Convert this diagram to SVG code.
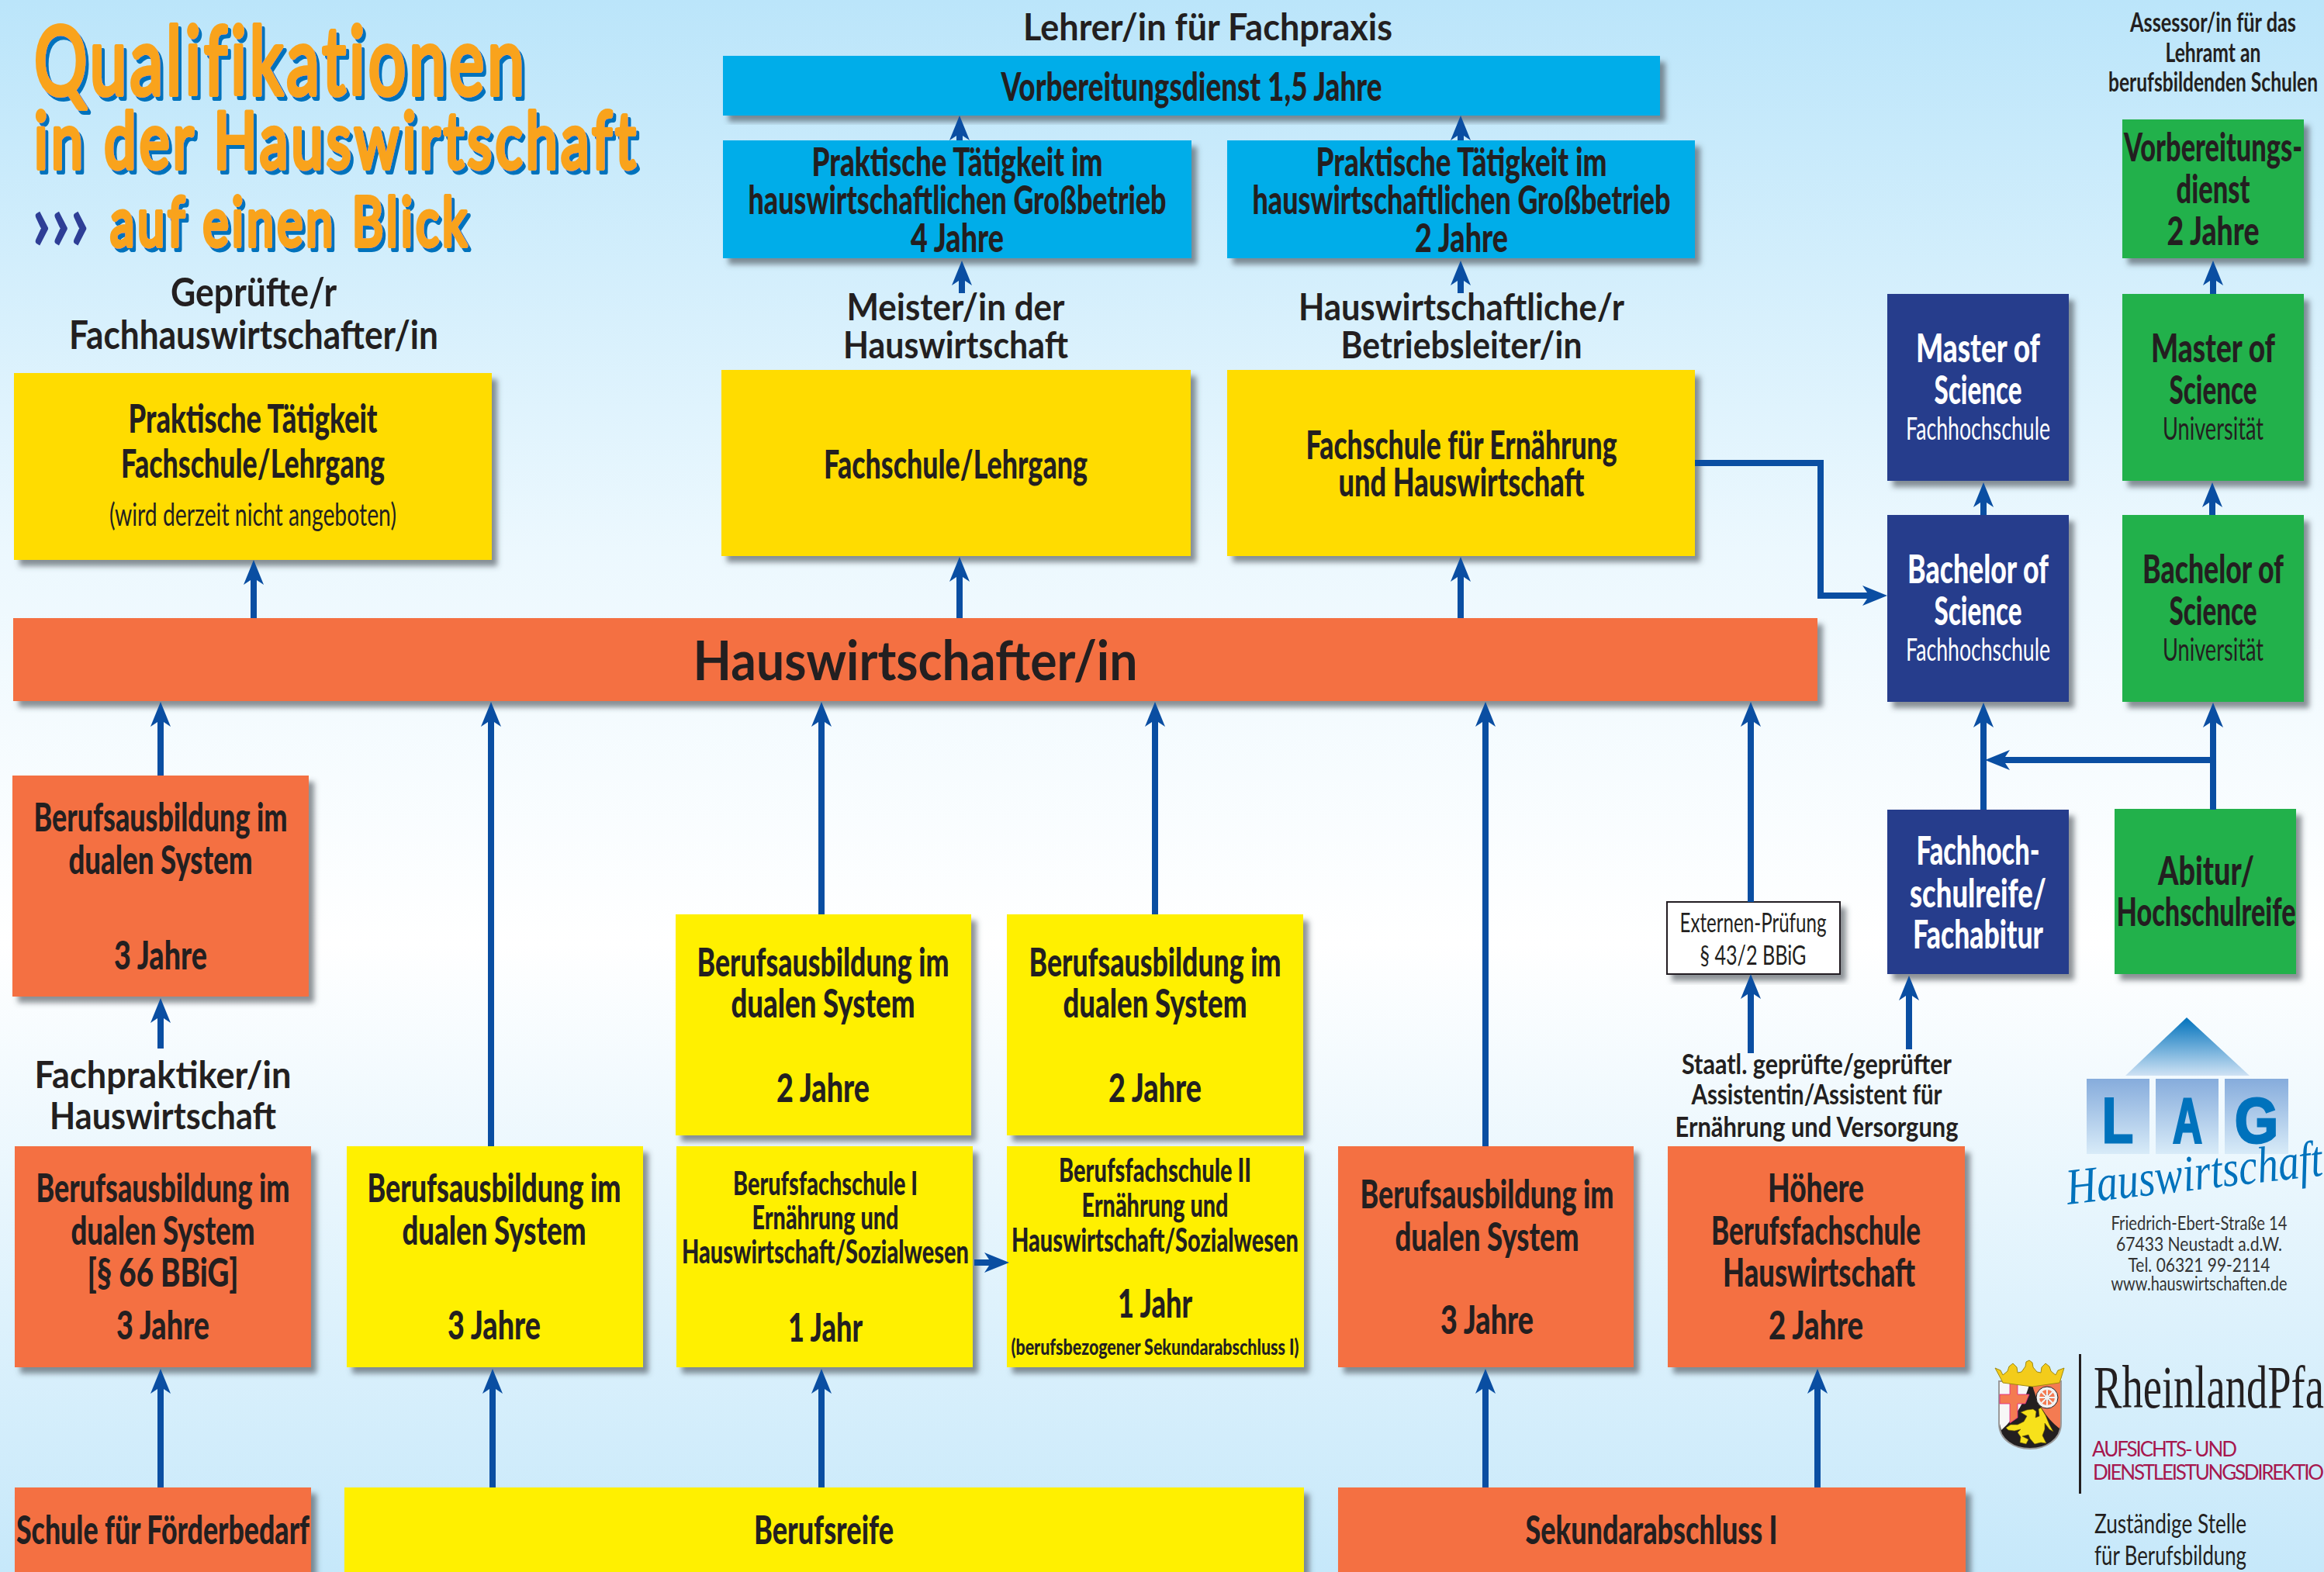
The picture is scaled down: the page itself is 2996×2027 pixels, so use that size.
<svg xmlns="http://www.w3.org/2000/svg" width="2996" height="2027" viewBox="0 0 2996 2027">
<defs>
<linearGradient id="bg" x1="0" y1="0" x2="0" y2="1"><stop offset="0" stop-color="#bbe5fa"/><stop offset="0.35" stop-color="#ecf8fe"/><stop offset="0.6" stop-color="#ffffff"/><stop offset="1" stop-color="#c6e8fa"/></linearGradient>
<linearGradient id="roof" x1="0" y1="0" x2="0" y2="1"><stop offset="0" stop-color="#0072bc"/><stop offset="1" stop-color="#cfe2f4"/></linearGradient>
<linearGradient id="sq" x1="0" y1="0" x2="0" y2="1"><stop offset="0" stop-color="#86acdc"/><stop offset="1" stop-color="#d8ebf8"/></linearGradient>
<filter id="sh" x="-10%" y="-10%" width="125%" height="125%"><feDropShadow dx="7" dy="8" stdDeviation="3.5" flood-color="#40464f" flood-opacity="0.6"/></filter>
<filter id="tsh" x="-5%" y="-5%" width="110%" height="115%"><feDropShadow dx="4" dy="5" stdDeviation="0" flood-color="#0072bc"/></filter>
<marker id="ah" markerUnits="userSpaceOnUse" viewBox="0 0 32 26" markerWidth="32" markerHeight="26" refX="12" refY="13" orient="auto"><path d="M32,13 L0,26 L6,17 L6,9 L0,0 Z" fill="#0a4ea2"/></marker>
</defs>
<style>
text{font-family:"Lato","Liberation Sans",sans-serif;fill:#231f20;text-anchor:middle}
.b{font-size:52px;font-weight:900;transform:translateY(2px)}
.m{font-size:48px;font-weight:700}
.r{font-size:40px;font-weight:400}
.s{font-size:34px;font-weight:700}
.w{fill:#fff}
.box{filter:url(#sh)}
.blue{fill:#00ade9}.gold{fill:#ffdc00}.yel{fill:#fff000}.org{fill:#f46f43}.navy{fill:#253d8c}.grn{fill:#24b14c}
.title{fill:#f9a31c;stroke:#f9a31c;stroke-width:6;stroke-linejoin:round;stroke-linecap:round;font-weight:400;letter-spacing:6px;text-anchor:start;filter:url(#tsh)}
#connectors path{fill:none;stroke:#0a4ea2;stroke-width:8;marker-end:url(#ah)}
.addr{font-size:25px;font-weight:400;fill:#333}
.dir{font-size:26px;fill:#a6174e;text-anchor:start}
.z{font-size:34px;text-anchor:start;font-weight:400}
</style>
<rect width="2996" height="2027" fill="url(#bg)"/>
<g id="title">
<text class="title" x="44" y="122" font-size="122" textLength="636" lengthAdjust="spacingAndGlyphs">Qualifikationen</text>
<text class="title" x="44" y="217" font-size="100" textLength="780" lengthAdjust="spacingAndGlyphs">in der Hauswirtschaft</text>
<text x="78" y="323" font-size="105" font-weight="900" style="fill:#2e3e96" textLength="74" lengthAdjust="spacingAndGlyphs">›››</text>
<text class="title" x="142" y="317" font-size="88" textLength="464" lengthAdjust="spacingAndGlyphs">auf einen Blick</text>
</g>
<g id="label-lehrer"><text class="m" x="1557" y="52" textLength="476" lengthAdjust="spacingAndGlyphs">Lehrer/in für Fachpraxis</text></g>
<g id="node-vorbereitung"><rect class="box blue" x="932" y="72" width="1208" height="77"/><text class="b" x="1536" y="128" textLength="491" lengthAdjust="spacingAndGlyphs">Vorbereitungsdienst 1,5 Jahre</text></g>
<g id="node-prak4"><rect class="box blue" x="932" y="181" width="604" height="152"/>
<text class="b" x="1234" y="225" textLength="375" lengthAdjust="spacingAndGlyphs">Praktische Tätigkeit im</text>
<text class="b" x="1234" y="274" textLength="539" lengthAdjust="spacingAndGlyphs">hauswirtschaftlichen Großbetrieb</text>
<text class="b" x="1234" y="323" textLength="120" lengthAdjust="spacingAndGlyphs">4 Jahre</text></g>
<g id="node-prak2"><rect class="box blue" x="1582" y="181" width="603" height="152"/>
<text class="b" x="1884" y="225" textLength="375" lengthAdjust="spacingAndGlyphs">Praktische Tätigkeit im</text>
<text class="b" x="1884" y="274" textLength="539" lengthAdjust="spacingAndGlyphs">hauswirtschaftlichen Großbetrieb</text>
<text class="b" x="1884" y="323" textLength="120" lengthAdjust="spacingAndGlyphs">2 Jahre</text></g>
<g id="label-geprueft"><text class="m" x="327" y="395" style="font-size:52px" textLength="214" lengthAdjust="spacingAndGlyphs">Geprüfte/r</text><text class="m" x="327" y="450" style="font-size:52px" textLength="476" lengthAdjust="spacingAndGlyphs">Fachhauswirtschafter/in</text></g>
<g id="label-meister"><text class="m" x="1232" y="413" textLength="281" lengthAdjust="spacingAndGlyphs">Meister/in der</text><text class="m" x="1232" y="462" textLength="290" lengthAdjust="spacingAndGlyphs">Hauswirtschaft</text></g>
<g id="label-betriebsleiter"><text class="m" x="1884" y="413" textLength="420" lengthAdjust="spacingAndGlyphs">Hauswirtschaftliche/r</text><text class="m" x="1884" y="462" textLength="311" lengthAdjust="spacingAndGlyphs">Betriebsleiter/in</text></g>
<g id="node-fach-prak"><rect class="box gold" x="18" y="481" width="616" height="241"/>
<text class="b" x="326" y="556" textLength="321" lengthAdjust="spacingAndGlyphs">Praktische Tätigkeit</text>
<text class="b" x="326" y="614" textLength="340" lengthAdjust="spacingAndGlyphs">Fachschule/Lehrgang</text>
<text class="r" x="326" y="678" textLength="370" lengthAdjust="spacingAndGlyphs">(wird derzeit nicht angeboten)</text></g>
<g id="node-fach-meister"><rect class="box gold" x="930" y="477" width="605" height="240"/><text class="b" x="1232" y="615" textLength="340" lengthAdjust="spacingAndGlyphs">Fachschule/Lehrgang</text></g>
<g id="node-fach-ern"><rect class="box gold" x="1582" y="477" width="603" height="240"/>
<text class="b" x="1884" y="590" textLength="401" lengthAdjust="spacingAndGlyphs">Fachschule für Ernährung</text>
<text class="b" x="1884" y="638" textLength="317" lengthAdjust="spacingAndGlyphs">und Hauswirtschaft</text></g>
<g id="node-hw"><rect class="box org" x="17" y="797" width="2326" height="107"/><text x="1180" y="877" font-size="70" font-weight="700" textLength="573" lengthAdjust="spacingAndGlyphs">Hauswirtschafter/in</text></g>
<g id="node-vorb2"><rect class="box grn" x="2736" y="154" width="234" height="179"/>
<text class="b" x="2853" y="206" textLength="230" lengthAdjust="spacingAndGlyphs">Vorbereitungs-</text>
<text class="b" x="2853" y="260" textLength="95" lengthAdjust="spacingAndGlyphs">dienst</text>
<text class="b" x="2853" y="314" textLength="119" lengthAdjust="spacingAndGlyphs">2 Jahre</text></g>
<g id="label-assessor"><text class="s" x="2853" y="41" textLength="214" lengthAdjust="spacingAndGlyphs">Assessor/in für das</text><text class="s" x="2853" y="80" textLength="123" lengthAdjust="spacingAndGlyphs">Lehramt an</text><text class="s" x="2853" y="118" textLength="270" lengthAdjust="spacingAndGlyphs">berufsbildenden Schulen</text></g>
<g id="node-master-fh"><rect class="box navy" x="2433" y="379" width="234" height="241"/>
<text class="b w" x="2550" y="465" textLength="160" lengthAdjust="spacingAndGlyphs">Master of</text>
<text class="b w" x="2550" y="519" textLength="113" lengthAdjust="spacingAndGlyphs">Science</text>
<text class="r w" x="2550" y="567" textLength="186" lengthAdjust="spacingAndGlyphs">Fachhochschule</text></g>
<g id="node-master-uni"><rect class="box grn" x="2736" y="379" width="234" height="241"/>
<text class="b" x="2853" y="465" textLength="160" lengthAdjust="spacingAndGlyphs">Master of</text>
<text class="b" x="2853" y="519" textLength="113" lengthAdjust="spacingAndGlyphs">Science</text>
<text class="r" x="2853" y="567" textLength="130" lengthAdjust="spacingAndGlyphs">Universität</text></g>
<g id="node-bachelor-fh"><rect class="box navy" x="2433" y="664" width="234" height="241"/>
<text class="b w" x="2550" y="750" textLength="182" lengthAdjust="spacingAndGlyphs">Bachelor of</text>
<text class="b w" x="2550" y="804" textLength="113" lengthAdjust="spacingAndGlyphs">Science</text>
<text class="r w" x="2550" y="852" textLength="186" lengthAdjust="spacingAndGlyphs">Fachhochschule</text></g>
<g id="node-bachelor-uni"><rect class="box grn" x="2736" y="664" width="234" height="241"/>
<text class="b" x="2853" y="750" textLength="182" lengthAdjust="spacingAndGlyphs">Bachelor of</text>
<text class="b" x="2853" y="804" textLength="113" lengthAdjust="spacingAndGlyphs">Science</text>
<text class="r" x="2853" y="852" textLength="130" lengthAdjust="spacingAndGlyphs">Universität</text></g>
<g id="node-fachabitur"><rect class="box navy" x="2433" y="1044" width="234" height="212"/>
<text class="b w" x="2550" y="1113" textLength="159" lengthAdjust="spacingAndGlyphs">Fachhoch-</text>
<text class="b w" x="2550" y="1168" textLength="176" lengthAdjust="spacingAndGlyphs">schulreife/</text>
<text class="b w" x="2550" y="1221" textLength="168" lengthAdjust="spacingAndGlyphs">Fachabitur</text></g>
<g id="node-abitur"><rect class="box grn" x="2726" y="1043" width="234" height="213"/>
<text class="b" x="2844" y="1139" textLength="124" lengthAdjust="spacingAndGlyphs">Abitur/</text>
<text class="b" x="2844" y="1192" textLength="231" lengthAdjust="spacingAndGlyphs">Hochschulreife</text></g>
<g id="node-ba-org"><rect class="box org" x="16" y="1000" width="382" height="285"/>
<text class="b" x="207" y="1070" textLength="327" lengthAdjust="spacingAndGlyphs">Berufsausbildung im</text>
<text class="b" x="207" y="1125" textLength="237" lengthAdjust="spacingAndGlyphs">dualen System</text>
<text class="b" x="207" y="1248" textLength="120" lengthAdjust="spacingAndGlyphs">3 Jahre</text></g>
<g id="label-fachpraktiker"><text class="m" x="210" y="1403" textLength="331" lengthAdjust="spacingAndGlyphs">Fachpraktiker/in</text><text class="m" x="210" y="1456" textLength="292" lengthAdjust="spacingAndGlyphs">Hauswirtschaft</text></g>
<g id="node-ba-66"><rect class="box org" x="19" y="1478" width="382" height="285"/>
<text class="b" x="210" y="1548" textLength="327" lengthAdjust="spacingAndGlyphs">Berufsausbildung im</text>
<text class="b" x="210" y="1603" textLength="237" lengthAdjust="spacingAndGlyphs">dualen System</text>
<text class="b" x="210" y="1657" textLength="195" lengthAdjust="spacingAndGlyphs">[§ 66 BBiG]</text>
<text class="b" x="210" y="1725" textLength="120" lengthAdjust="spacingAndGlyphs">3 Jahre</text></g>
<g id="node-ba-yel3"><rect class="box yel" x="447" y="1478" width="382" height="285"/>
<text class="b" x="637" y="1548" textLength="327" lengthAdjust="spacingAndGlyphs">Berufsausbildung im</text>
<text class="b" x="637" y="1603" textLength="237" lengthAdjust="spacingAndGlyphs">dualen System</text>
<text class="b" x="637" y="1725" textLength="120" lengthAdjust="spacingAndGlyphs">3 Jahre</text></g>
<g id="node-ba-yel2a"><rect class="box yel" x="871" y="1179" width="381" height="285"/>
<text class="b" x="1061" y="1257" textLength="325" lengthAdjust="spacingAndGlyphs">Berufsausbildung im</text>
<text class="b" x="1061" y="1310" textLength="237" lengthAdjust="spacingAndGlyphs">dualen System</text>
<text class="b" x="1061" y="1419" textLength="120" lengthAdjust="spacingAndGlyphs">2 Jahre</text></g>
<g id="node-ba-yel2b"><rect class="box yel" x="1298" y="1179" width="382" height="285"/>
<text class="b" x="1489" y="1257" textLength="325" lengthAdjust="spacingAndGlyphs">Berufsausbildung im</text>
<text class="b" x="1489" y="1310" textLength="237" lengthAdjust="spacingAndGlyphs">dualen System</text>
<text class="b" x="1489" y="1419" textLength="120" lengthAdjust="spacingAndGlyphs">2 Jahre</text></g>
<g id="node-bfs1"><rect class="box yel" x="872" y="1478" width="382" height="285"/>
<text class="b" x="1064" y="1539" style="font-size:42px" textLength="238" lengthAdjust="spacingAndGlyphs">Berufsfachschule I</text>
<text class="b" x="1064" y="1583" style="font-size:42px" textLength="189" lengthAdjust="spacingAndGlyphs">Ernährung und</text>
<text class="b" x="1064" y="1627" style="font-size:42px" textLength="370" lengthAdjust="spacingAndGlyphs">Hauswirtschaft/Sozialwesen</text>
<text class="b" x="1064" y="1728" textLength="96" lengthAdjust="spacingAndGlyphs">1 Jahr</text></g>
<g id="node-bfs2"><rect class="box yel" x="1298" y="1478" width="383" height="285"/>
<text class="b" x="1489" y="1522" style="font-size:42px" textLength="248" lengthAdjust="spacingAndGlyphs">Berufsfachschule II</text>
<text class="b" x="1489" y="1567" style="font-size:42px" textLength="189" lengthAdjust="spacingAndGlyphs">Ernährung und</text>
<text class="b" x="1489" y="1612" style="font-size:42px" textLength="370" lengthAdjust="spacingAndGlyphs">Hauswirtschaft/Sozialwesen</text>
<text class="b" x="1489" y="1697" textLength="96" lengthAdjust="spacingAndGlyphs">1 Jahr</text>
<text class="b" x="1489" y="1745" style="font-size:28px" textLength="371" lengthAdjust="spacingAndGlyphs">(berufsbezogener Sekundarabschluss I)</text></g>
<g id="node-ba-org3"><rect class="box org" x="1725" y="1478" width="381" height="285"/>
<text class="b" x="1917" y="1556" textLength="327" lengthAdjust="spacingAndGlyphs">Berufsausbildung im</text>
<text class="b" x="1917" y="1611" textLength="237" lengthAdjust="spacingAndGlyphs">dualen System</text>
<text class="b" x="1917" y="1718" textLength="120" lengthAdjust="spacingAndGlyphs">3 Jahre</text></g>
<g id="node-hoehere"><rect class="box org" x="2150" y="1478" width="383" height="285"/>
<text class="b" x="2341" y="1548" textLength="124" lengthAdjust="spacingAndGlyphs">Höhere</text>
<text class="b" x="2341" y="1603" textLength="270" lengthAdjust="spacingAndGlyphs">Berufsfachschule</text>
<text class="b" x="2345" y="1657" textLength="248" lengthAdjust="spacingAndGlyphs">Hauswirtschaft</text>
<text class="b" x="2341" y="1725" textLength="122" lengthAdjust="spacingAndGlyphs">2 Jahre</text></g>
<g id="label-staatl"><text class="s" x="2342" y="1385" style="font-size:37px" textLength="348" lengthAdjust="spacingAndGlyphs">Staatl. geprüfte/geprüfter</text><text class="s" x="2342" y="1424" style="font-size:37px" textLength="323" lengthAdjust="spacingAndGlyphs">Assistentin/Assistent für</text><text class="s" x="2342" y="1466" style="font-size:37px" textLength="365" lengthAdjust="spacingAndGlyphs">Ernährung und Versorgung</text></g>
<g id="node-externen"><rect class="box" x="2149" y="1163" width="223" height="93" fill="#fff" stroke="#231f20" stroke-width="2"/>
<text x="2260" y="1202" font-size="34" textLength="189" lengthAdjust="spacingAndGlyphs">Externen-Prüfung</text>
<text x="2260" y="1244" font-size="34" textLength="137" lengthAdjust="spacingAndGlyphs">§ 43/2 BBiG</text></g>
<g id="node-foerder"><rect class="box org" x="19" y="1918" width="382" height="120"/><text class="b" x="210" y="1989" textLength="378" lengthAdjust="spacingAndGlyphs">Schule für Förderbedarf</text></g>
<g id="node-berufsreife"><rect class="box yel" x="444" y="1918" width="1237" height="120"/><text class="b" x="1062" y="1989" textLength="180" lengthAdjust="spacingAndGlyphs">Berufsreife</text></g>
<g id="node-sek"><rect class="box org" x="1725" y="1918" width="809" height="120"/><text class="b" x="2129" y="1989" textLength="325" lengthAdjust="spacingAndGlyphs">Sekundarabschluss I</text></g>
<g id="connectors">
<path d="M1237 181V169"/><path d="M1883 181V169"/>
<path d="M1240 378V356"/><path d="M1883 378V356"/>
<path d="M327 797V742"/><path d="M1237 797V738"/><path d="M1883 797V738"/>
<path d="M207 1000V925"/><path d="M633 1478V925"/><path d="M1059 1179V925"/><path d="M1489 1179V925"/><path d="M1915 1478V925"/><path d="M2257 1163V925"/>
<path d="M2257 1358V1276"/><path d="M2461 1353V1278"/>
<path d="M207 1352V1307"/>
<path d="M207 1918V1785"/><path d="M635 1918V1785"/><path d="M1059 1918V1785"/><path d="M1915 1918V1785"/><path d="M2343 1918V1785"/>
<path d="M2557 1044V926"/><path d="M2853 1044V926"/><path d="M2853 980H2579"/>
<path d="M2557 664V642"/><path d="M2852 664V642"/><path d="M2853 379V356"/>
<path d="M2185 597H2347V768H2413"/>
<path d="M1256 1628H1281"/>
</g>
<g id="logo-lag">
<path d="M2819 1312L2900 1387H2740Z" fill="url(#roof)"/>
<rect x="2690" y="1391" width="81" height="97" fill="url(#sq)"/><rect x="2779" y="1391" width="81" height="97" fill="url(#sq)"/><rect x="2868" y="1391" width="82" height="97" fill="url(#sq)"/>
<text x="2730" y="1473" font-size="82" font-weight="700" style="font-family:'Liberation Sans';fill:#0072bc" stroke="#0072bc" stroke-width="3" textLength="40" lengthAdjust="spacingAndGlyphs">L</text>
<text x="2820" y="1473" font-size="82" font-weight="700" style="font-family:'Liberation Sans';fill:#0072bc" stroke="#0072bc" stroke-width="3" textLength="38" lengthAdjust="spacingAndGlyphs">A</text>
<text x="2909" y="1473" font-size="82" font-weight="700" style="font-family:'Liberation Sans';fill:#0072bc" stroke="#0072bc" stroke-width="3" textLength="56" lengthAdjust="spacingAndGlyphs">G</text>
<text transform="translate(2666 1553) rotate(-6.5)" style="font-family:'Liberation Serif';font-style:italic;fill:#0072bc;text-anchor:start" font-size="66" textLength="332" lengthAdjust="spacingAndGlyphs">Hauswirtschaft</text>
<text class="addr" x="2835" y="1586" textLength="227" lengthAdjust="spacingAndGlyphs">Friedrich-Ebert-Straße 14</text>
<text class="addr" x="2835" y="1613" textLength="214" lengthAdjust="spacingAndGlyphs">67433 Neustadt a.d.W.</text>
<text class="addr" x="2835" y="1640" textLength="183" lengthAdjust="spacingAndGlyphs">Tel. 06321 99-2114</text>
<text class="addr" x="2835" y="1664" textLength="227" lengthAdjust="spacingAndGlyphs">www.hauswirtschaften.de</text>
</g>
<g id="logo-rlp">
<path d="M2577 1781h80v54c0 22-20 33-40 33s-40-11-40-33z" fill="#231f20" stroke="#9a9a9a" stroke-width="2"/>
<path d="M2578 1782h39c-6 24-17 44-37 62l-2-8z" fill="#f7f7f7"/>
<path d="M2591 1782h10v16h15l-5 12h-10v18l-10 7v-25h-13v-12h13z" fill="#f47b52" stroke="#e0218a" stroke-width="0.8"/>
<path d="M2619 1782h37v53c0 3 0 5-1 7-18-14-30-34-36-60z" fill="#f47b52"/>
<circle cx="2639" cy="1802" r="12" fill="none" stroke="#f2f2f2" stroke-width="4"/><circle cx="2639" cy="1802" r="14" fill="none" stroke="#231f20" stroke-width="1"/><circle cx="2639" cy="1802" r="3.5" fill="#f2f2f2" stroke="#231f20" stroke-width="1"/>
<path d="M2639 1791v22M2628 1802h22M2631 1794l16 16M2647 1794l-16 16" stroke="#f2f2f2" stroke-width="2"/>
<path d="M2605 1821l8-3 8-1 4 3-1 8 5-2-1-9 3-2 6 10 5 12 5 9-5-3-6-8 0 8-3 8 5 10-7-1-8 2-6-7-2-5-8 2 8 4-3 6-8-2 1-7-4-6 4-4-8 2-8-1-3-3 6-4 9 0 8-4 4-7z" fill="#f7e11b" stroke="#6b5a00" stroke-width="0.6"/>
<path d="M2572 1764l7 3 3 6 6-5 2-6 5-4 5 5 1 7 5-1 5-7 1-6 4-2 4 3 1 6 5 6 5 1 1-7 5-5 5 4 2 6 6 5 3-6 8-3-4 13-2 6-35 5-38-5-3-6z" fill="#f3cc1b" stroke="#a08a10" stroke-width="1"/>
<rect x="2680" y="1746" width="3" height="180" fill="#231f20"/>
<text x="2699" y="1815" style="font-family:'Liberation Serif';text-anchor:start" font-size="78" textLength="297" lengthAdjust="spacingAndGlyphs">RheinlandPfa</text>
<text class="dir" x="2697" y="1878" textLength="187">AUFSICHTS- UND</text>
<text class="dir" x="2698" y="1908" textLength="298">DIENSTLEISTUNGSDIREKTIO</text>
<text class="z" x="2700" y="1977" textLength="196" lengthAdjust="spacingAndGlyphs">Zuständige Stelle</text>
<text class="z" x="2700" y="2018" textLength="196" lengthAdjust="spacingAndGlyphs">für Berufsbildung</text>
</g>
</svg>
